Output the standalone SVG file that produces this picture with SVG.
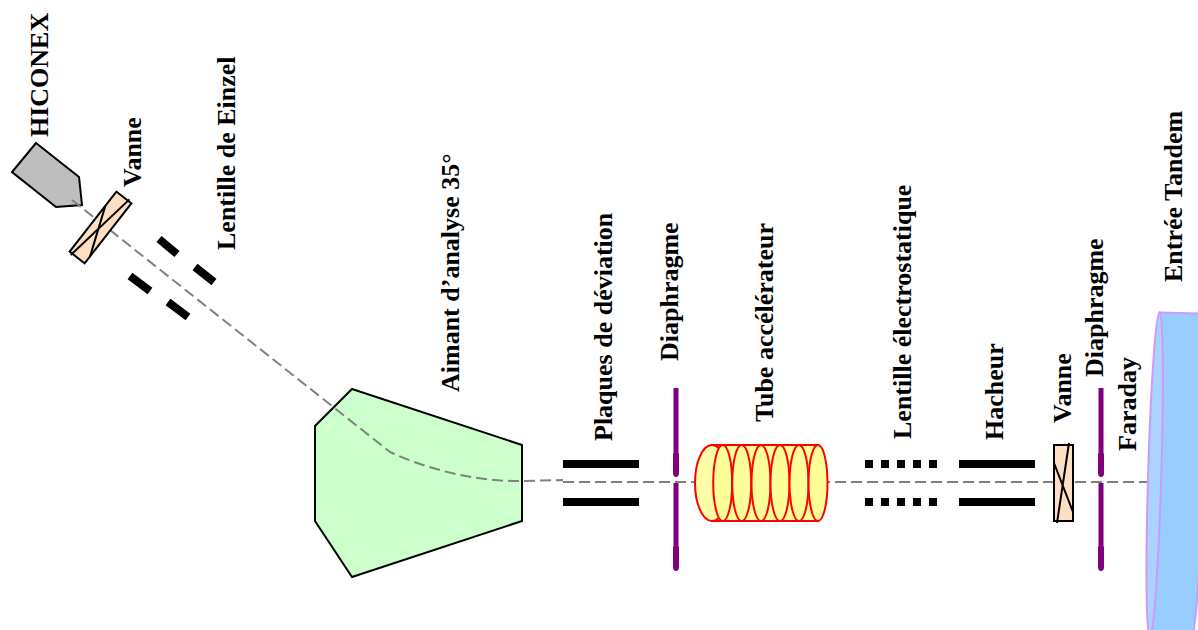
<svg xmlns="http://www.w3.org/2000/svg" width="1198" height="630" viewBox="0 0 1198 630">
<style>
text{font-family:"Liberation Serif","Times New Roman",serif;font-weight:bold;font-size:26px;fill:#000}
.o{stroke:#000;stroke-width:2;stroke-linejoin:miter}
.bar{fill:#000;stroke:none}
.tube{fill:#ffff99;stroke:#ff0000;stroke-width:2}
.dia{fill:#800080;stroke:none}
.beam{fill:none;stroke:#808080;stroke-width:2;stroke-dasharray:11 5}
.x{fill:none;stroke:#000;stroke-width:2}
</style>
<defs>
<g id="valve"><rect x="-9.5" y="-38" width="19" height="76" fill="#fddfc3" stroke="#000" stroke-width="2"/><path class="x" d="M5.500-40L-6.500 40M-9.500-20L9.500 29"/></g>
<g id="diaphragm"><path class="dia" d="M-2.500-95H2.500V-30L3-29V-10Q3-6 0-6Q-3-6-3-10V-29L-2.500-30ZM-2.500 0H2.500V63L3 64V84Q3 88 0 88Q-3 88-3 84V64L-2.500 63Z"/></g>
</defs>
<g id="hiconex"><polygon class="o" fill="#bebebe" points="36,143 79,177 82,205 56,207 12,172"/><text transform="translate(48 137) rotate(-90)">HICONEX</text></g>
<g id="aimant"><polygon class="o" fill="#ccffcc" points="352,389 522,445 522,521 352,577 315,521 315,426"/><text transform="translate(459 392) rotate(-90)">Aimant d’analyse 35°</text></g>
<g id="connectors"><path class="beam" d="M72 200L390 452C420 466 470 482 522 481L563 480M563 482H1148"/></g>
<g id="vanne1"><use href="#valve" transform="translate(100.500 227.500) rotate(38)"/><text transform="translate(141 187) rotate(-90)">Vanne</text></g>
<g id="einzel"><path d="M159 239L177 254M195 267L214 282M130 276L150 291M168 302L188 317" stroke="#000" stroke-width="8" fill="none"/><text transform="translate(235 250) rotate(-90)">Lentille de Einzel</text></g>
<g id="plaques"><rect class="bar" x="563" y="460" width="76" height="8"/><rect class="bar" x="563" y="498" width="76" height="8"/><text transform="translate(612 441) rotate(-90)">Plaques de déviation</text></g>
<g id="diaphragme1"><use href="#diaphragm" transform="translate(676 483)"/><text transform="translate(678 361) rotate(-90)">Diaphragme</text></g>
<g id="tube">
<rect x="712" y="445" width="106" height="76" fill="#ffff99" stroke="#ff0000" stroke-width="2"/>
<ellipse cx="712" cy="483" rx="17" ry="38" fill="#ffffaa" stroke="#ff0000" stroke-width="2"/>
<ellipse class="tube" cx="722.700" cy="483" rx="9.500" ry="38"/><ellipse class="tube" cx="741.700" cy="483" rx="9.500" ry="38"/><ellipse class="tube" cx="761" cy="483" rx="9.500" ry="38"/><ellipse class="tube" cx="780" cy="483" rx="9.500" ry="38"/><ellipse class="tube" cx="799" cy="483" rx="9.500" ry="38"/><ellipse class="tube" cx="818" cy="483" rx="9.500" ry="38"/>
<text transform="translate(773 422) rotate(-90)">Tube accélérateur</text></g>
<g id="electrostatique"><path d="M865 464H937M865 502H937" stroke="#000" stroke-width="8" stroke-dasharray="8 8" fill="none"/><text transform="translate(911 439) rotate(-90)">Lentille électrostatique</text></g>
<g id="hacheur"><rect class="bar" x="959" y="460" width="76" height="8"/><rect class="bar" x="959" y="498" width="76" height="8"/><text transform="translate(1003 440) rotate(-90)">Hacheur</text></g>
<g id="vanne2"><use href="#valve" transform="translate(1063.500 483)"/><text transform="translate(1071 423) rotate(-90)">Vanne</text></g>
<g id="diaphragme2"><use href="#diaphragm" transform="translate(1101 483)"/><text transform="translate(1103 377) rotate(-90)">Diaphragme</text></g>
<g id="faraday"><text transform="translate(1136 451) rotate(-90)">Faraday</text></g>
<g id="tandem"><ellipse cx="1196.500" cy="475" rx="6.600" ry="163" transform="rotate(1.700 1196.500 475)" fill="#99ccff" stroke="#cc99ff" stroke-width="2"/><path d="M1159.500 313L1202 313.500L1193 640H1150Z" fill="#99ccff"/><path d="M1159.500 312.500L1202 313.500" stroke="#cc99ff" stroke-width="2" fill="none"/><ellipse cx="1154.700" cy="475" rx="6.600" ry="163" transform="rotate(1.700 1154.700 475)" fill="#aad4ff" stroke="#cc99ff" stroke-width="2"/><text transform="translate(1182 282) rotate(-90)">Entrée Tandem</text></g>
</svg>
